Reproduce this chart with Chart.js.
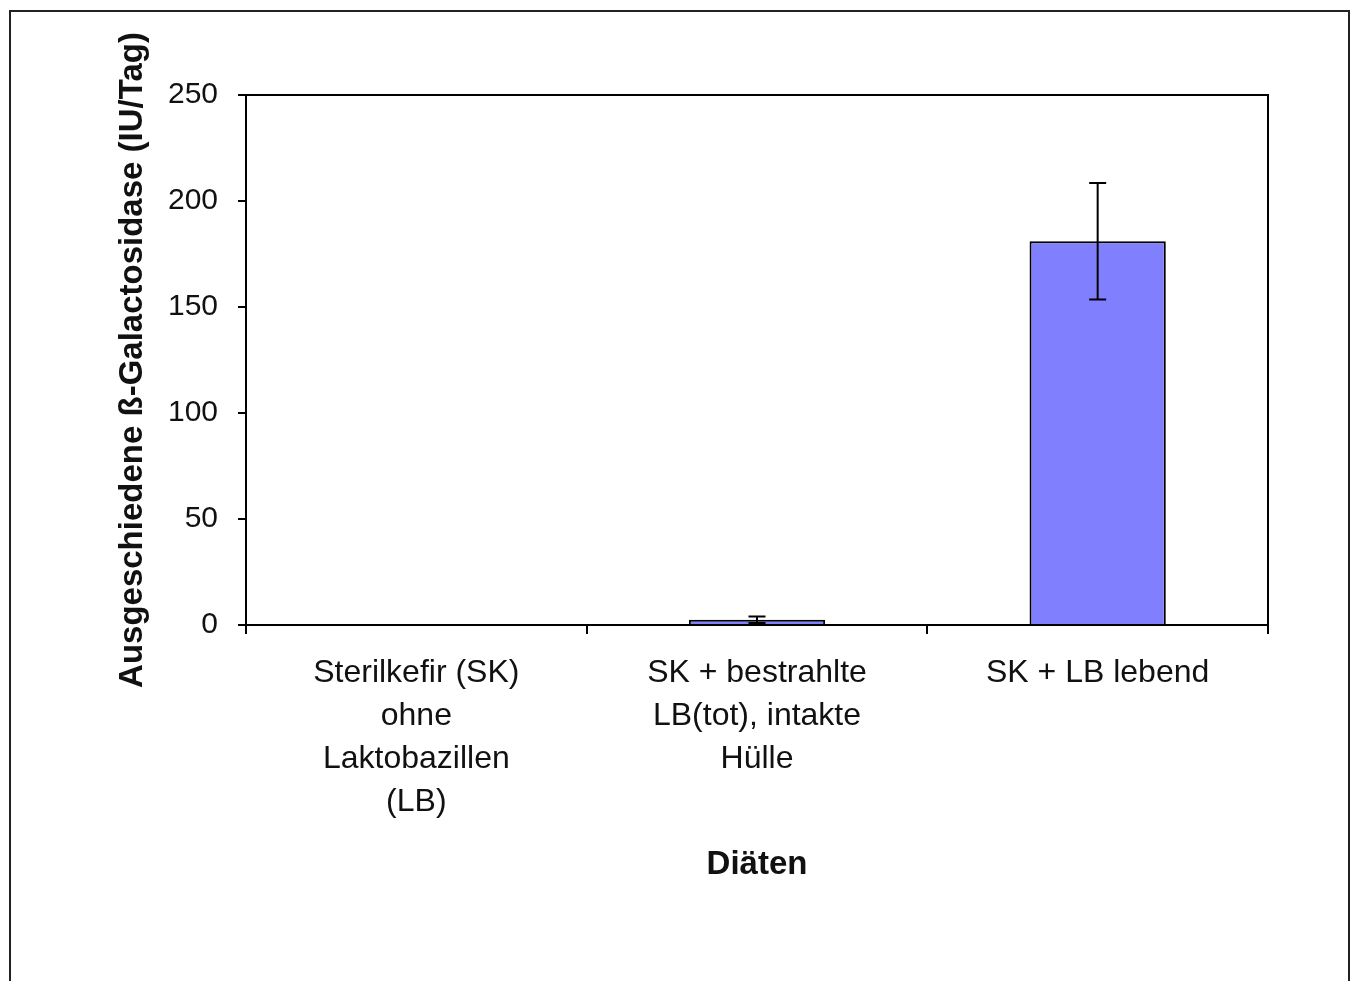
<!DOCTYPE html>
<html>
<head>
<meta charset="utf-8">
<script src="https://cdn.jsdelivr.net/npm/chart.js@4/dist/chart.umd.min.js"></script>
<style>
  html, body { margin: 0; padding: 0; background: #ffffff; }
  #wrap { width: 1351px; height: 981px; position: relative; }
</style>
</head>
<body>
<div id="wrap"><canvas id="c" width="1351" height="981"></canvas></div>
<script>
// Diets (multi-line category labels)
const categories = [
  ["Sterilkefir (SK)", "ohne", "Laktobazillen", "(LB)"],
  ["SK + bestrahlte", "LB(tot), intakte", "Hülle"],
  ["SK + LB lebend"]
];
// Excreted beta-galactosidase, IU per day
const meanValues = [0, 2.5, 181];
// Standard deviation shown as error bars
const errorValues = [0, 1.5, 27.5];
const yTicks = [0, 50, 100, 150, 200, 250];

const FONT = "'Liberation Sans', Arial, sans-serif";

// Outer frame and plot-area box
const framePlugin = {
  id: 'frame',
  beforeDraw(chart) {
    const ctx = chart.ctx;
    ctx.save();
    ctx.fillStyle = '#ffffff';
    ctx.fillRect(0, 0, chart.width, chart.height);
    ctx.strokeStyle = '#222222';
    ctx.lineWidth = 2;
    ctx.strokeRect(10, 11, 1339, 1000);
    ctx.restore();
  },
  afterDatasetsDraw(chart) {
    const ctx = chart.ctx;
    const a = chart.chartArea;
    ctx.save();
    ctx.strokeStyle = '#000000';
    ctx.lineWidth = 2;
    ctx.strokeRect(a.left, a.top, a.right - a.left, a.bottom - a.top);
    ctx.restore();
  }
};

// Error bars drawn from the mean/error arrays via the scales
const errorBarPlugin = {
  id: 'errorBars',
  afterDatasetsDraw(chart) {
    const ctx = chart.ctx;
    const meta = chart.getDatasetMeta(0);
    const y = chart.scales.y;
    ctx.save();
    ctx.strokeStyle = '#000000';
    ctx.lineWidth = 2;
    meta.data.forEach((bar, i) => {
      const e = errorValues[i];
      if (!e) return;
      const yTop = y.getPixelForValue(meanValues[i] + e);
      const yBot = y.getPixelForValue(meanValues[i] - e);
      const x = bar.x;
      const cap = 8.5;
      ctx.beginPath();
      ctx.moveTo(x, yTop); ctx.lineTo(x, yBot);
      ctx.moveTo(x - cap, yTop); ctx.lineTo(x + cap, yTop);
      ctx.moveTo(x - cap, yBot); ctx.lineTo(x + cap, yBot);
      ctx.stroke();
    });
    ctx.restore();
  }
};

new Chart(document.getElementById('c'), {
  type: 'bar',
  data: {
    labels: categories,
    datasets: [{
      data: meanValues,
      backgroundColor: '#8080ff',
      borderColor: '#000000',
      borderWidth: 2,
      barPercentage: 0.4,
      categoryPercentage: 1.0
    }]
  },
  options: {
    responsive: false,
    animation: false,
    devicePixelRatio: 1,
    layout: { padding: { left: 109, right: 83, top: 95, bottom: 92 } },
    plugins: {
      legend: { display: false },
      tooltip: { enabled: false }
    },
    scales: {
      x: {
        grid: {
          display: true, offset: true, drawOnChartArea: false,
          drawTicks: true, tickLength: 9, color: '#000000', lineWidth: 2
        },
        border: { display: true, color: '#000000', width: 2 },
        ticks: {
          color: '#111111', padding: 18, maxRotation: 0, autoSkip: false,
          font: { family: FONT, size: 32, lineHeight: 1.344 }
        },
        title: {
          display: true, text: 'Diäten', color: '#111111',
          font: { family: FONT, size: 33, weight: 'bold' }, padding: 4
        },
        afterFit(scale) { scale.height = 981 - 92 - 625; }
      },
      y: {
        min: 0, max: 250,
        afterBuildTicks(scale) { scale.ticks = yTicks.map(v => ({ value: v })); },
        grid: {
          display: true, drawOnChartArea: false, drawTicks: true,
          tickLength: 8, color: '#000000', lineWidth: 2
        },
        border: { display: true, color: '#000000', width: 2 },
        ticks: {
          color: '#111111', padding: 20,
          font: { family: FONT, size: 30 }
        },
        title: {
          display: true, text: 'Ausgeschiedene ß-Galactosidase (IU/Tag)', color: '#111111',
          font: { family: FONT, size: 33, weight: 'bold' }, padding: 4
        },
        afterFit(scale) { scale.width = 246 - 109; }
      }
    }
  },
  plugins: [framePlugin, errorBarPlugin]
});
</script>
</body>
</html>
